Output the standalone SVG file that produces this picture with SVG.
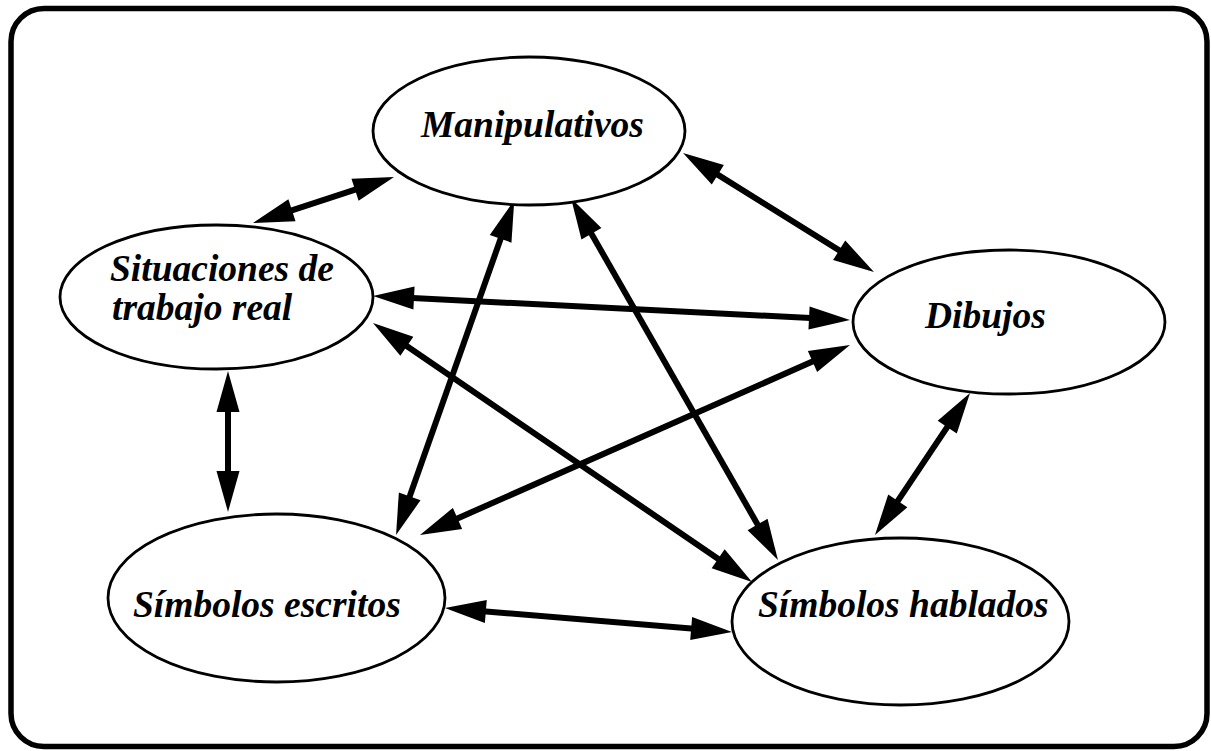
<svg xmlns="http://www.w3.org/2000/svg" width="1211" height="751" viewBox="0 0 1211 751">
  <style>
    .frame { fill: #ffffff; stroke: #000000; stroke-width: 5.5; }
    .node ellipse { fill: #ffffff; stroke: #000000; stroke-width: 2.8; }
    .node text { font-family: "Liberation Serif", "Times New Roman", serif; font-size: 37.5px; font-weight: bold; font-style: italic; fill: #000000; }
    .link { stroke: #000000; stroke-width: 6; fill: none; marker-start: url(#head); marker-end: url(#head); }
  </style>
  <defs>
    <!-- solid triangular arrowhead; the line stops 20px short of the tip -->
    <marker id="head" markerUnits="userSpaceOnUse" markerWidth="41" markerHeight="23" refX="21" refY="11.5" orient="auto-start-reverse" overflow="visible">
      <path d="M0,0 L41,11.5 L0,23 Z" fill="#000000"/>
    </marker>
  </defs>

  <rect class="frame" x="11" y="8.5" width="1196" height="738" rx="33" ry="33"/>

  <g id="connectors">
    <line class="link" x1="272.0" y1="216.8" x2="375.0" y2="183.2"/>
    <line class="link" x1="700.0" y1="163.6" x2="857.0" y2="261.4"/>
    <line class="link" x1="393.0" y1="297.0" x2="830.0" y2="319.0"/>
    <line class="link" x1="389.5" y1="334.3" x2="735.5" y2="570.7"/>
    <line class="link" x1="228" y1="391" x2="228" y2="492"/>
    <line class="link" x1="507.6" y1="219.0" x2="402.7" y2="516.2"/>
    <line class="link" x1="581.0" y1="215.5" x2="768.0" y2="542.7"/>
    <line class="link" x1="831.7" y1="353.1" x2="438.3" y2="526.9"/>
    <line class="link" x1="958.9" y1="409.6" x2="886.1" y2="518.4"/>
    <line class="link" x1="464.9" y1="609.7" x2="712.1" y2="630.3"/>
  </g>

  <g id="manipulativos" class="node">
    <ellipse cx="529" cy="131" rx="156" ry="74"/>
    <text x="421" y="137">Manipulativos</text>
  </g>

  <g id="situaciones" class="node">
    <ellipse cx="216.5" cy="297" rx="156.5" ry="72"/>
    <text x="110" y="281">Situaciones de</text>
    <text x="112" y="320">trabajo real</text>
  </g>

  <g id="dibujos" class="node">
    <ellipse cx="1009" cy="322" rx="156" ry="72"/>
    <text x="925" y="328">Dibujos</text>
  </g>

  <g id="simbolos-escritos" class="node">
    <ellipse cx="276.5" cy="598" rx="168.5" ry="84"/>
    <text x="133" y="617">Símbolos escritos</text>
  </g>

  <g id="simbolos-hablados" class="node">
    <ellipse cx="900.5" cy="621.5" rx="168.5" ry="83.5"/>
    <text x="758" y="617">Símbolos hablados</text>
  </g>
</svg>
